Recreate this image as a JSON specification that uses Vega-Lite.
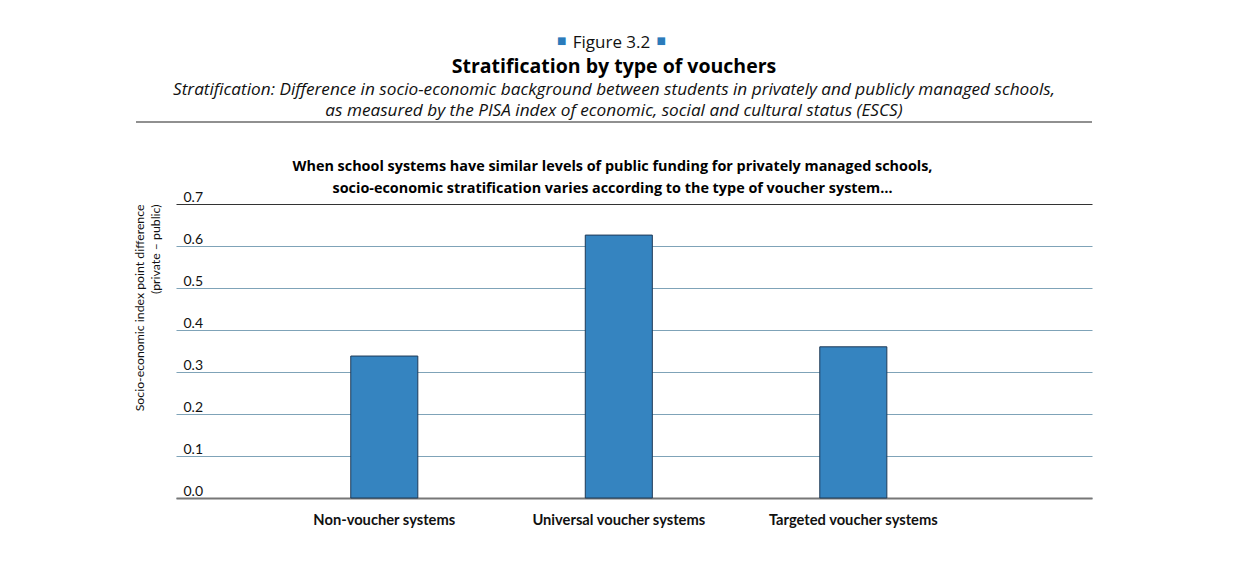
{
  "$schema": "https://vega.github.io/schema/vega-lite/v6.json",
  "background": "white",
  "padding": {"left": 132, "top": 34, "right": 10, "bottom": 10},
  "autosize": {"type": "pad"},
  "config": {"view": {"stroke": null}, "font": "Lato"},
  "title": {
    "text": "Figure 3.2", "font": "Open Sans", "fontSize": 17, "fontWeight": "normal", "color": "#111",
    "subtitle": "■\u2003\u2003\u2003\u2003\u2003\u2003\u2003\u2003\u2003■", "subtitleFont": "DejaVu Sans", "subtitleFontSize": 10, "subtitleColor": "#2b7bbb", "subtitlePadding": -16,
    "anchor": "middle", "offset": 5, "dx": -21
  },
  "datasets": {
    "d": [
      {"system": "Non-voucher systems", "value": 0.338},
      {"system": "Universal voucher systems", "value": 0.626},
      {"system": "Targeted voucher systems", "value": 0.36}
    ]
  },
  "spacing": -4,
  "vconcat": [
    {
      "width": 956,
      "height": 1,
      "data": {"name": "d"},
      "title": {
        "text": "Stratification by type of vouchers",
        "subtitle": ["Stratification: Difference in socio-economic background between students in privately and publicly managed schools,", "as measured by the PISA index of economic, social and cultural status (ESCS)"],
        "font": "Open Sans", "fontSize": 19.5, "fontWeight": "bold", "color": "#000",
        "subtitleFont": "Open Sans", "subtitleFontSize": 17.2, "subtitleFontStyle": "italic", "subtitleColor": "#111",
        "subtitleLineHeight": 21, "subtitlePadding": 3, "anchor": "middle", "offset": -1, "dx": -40
      },
      "mark": {"type": "point", "opacity": 0},
      "encoding": {
        "x": {"field": "value", "type": "quantitative", "axis": {"domain": true, "domainColor": "#222", "domainWidth": 1.2, "labels": false, "ticks": false, "grid": false, "title": null, "translate": -40, "offset": 40}}
      }
    },
    {
      "width": 916,
      "height": 294,
      "data": {"name": "d"},
      "title": {
        "text": ["When school systems have similar levels of public funding for privately managed schools,", "socio-economic stratification varies according to the type of voucher system…"],
        "font": "Open Sans", "fontSize": 14.4, "fontWeight": "bold", "color": "#000", "lineHeight": 22,
        "anchor": "middle", "frame": "bounds", "offset": -6
      },
      "mark": {"type": "bar", "fill": "#3584c0", "stroke": "#1f3a57", "strokeWidth": 1},
      "encoding": {
        "x": {
          "field": "system", "type": "nominal", "sort": null,
          "scale": {"paddingInner": 0.714, "paddingOuter": 0.81, "align": 0.46},
          "axis": {"title": null, "labelAngle": 0, "labelFont": "Lato", "labelFontWeight": "bold", "labelFontSize": 14.7, "labelColor": "#111", "ticks": false, "domainColor": "#777", "domainWidth": 2, "labelPadding": 14}
        },
        "y": {
          "field": "value", "type": "quantitative",
          "scale": {"domain": [0, 0.7], "nice": false, "zero": true},
          "axis": {
            "values": [0, 0.1, 0.2, 0.3, 0.4, 0.5, 0.6, 0.7], "format": ".1f",
            "grid": true,
            "gridColor": {"condition": {"test": "datum.value === 0.7", "value": "#333"}, "value": "#7fa3b8"},
            "gridOpacity": 1, "gridWidth": 1.2,
            "domain": false, "ticks": false, "tickSize": 0,
            "labelAlign": "left", "labelBaseline": "alphabetic", "labelPadding": -7, "labelOffset": -3,
            "labelFont": "Lato", "labelFontSize": 14, "labelColor": "#111",
            "title": ["Socio-economic index point difference", "(private – public)"],
            "titleFont": "Lato", "titleFontSize": 12.3, "titleFontWeight": "normal", "titleColor": "#111",
            "titleLineHeight": 16, "titleAnchor": "end", "titlePadding": 14
          }
        }
      }
    }
  ]
}
